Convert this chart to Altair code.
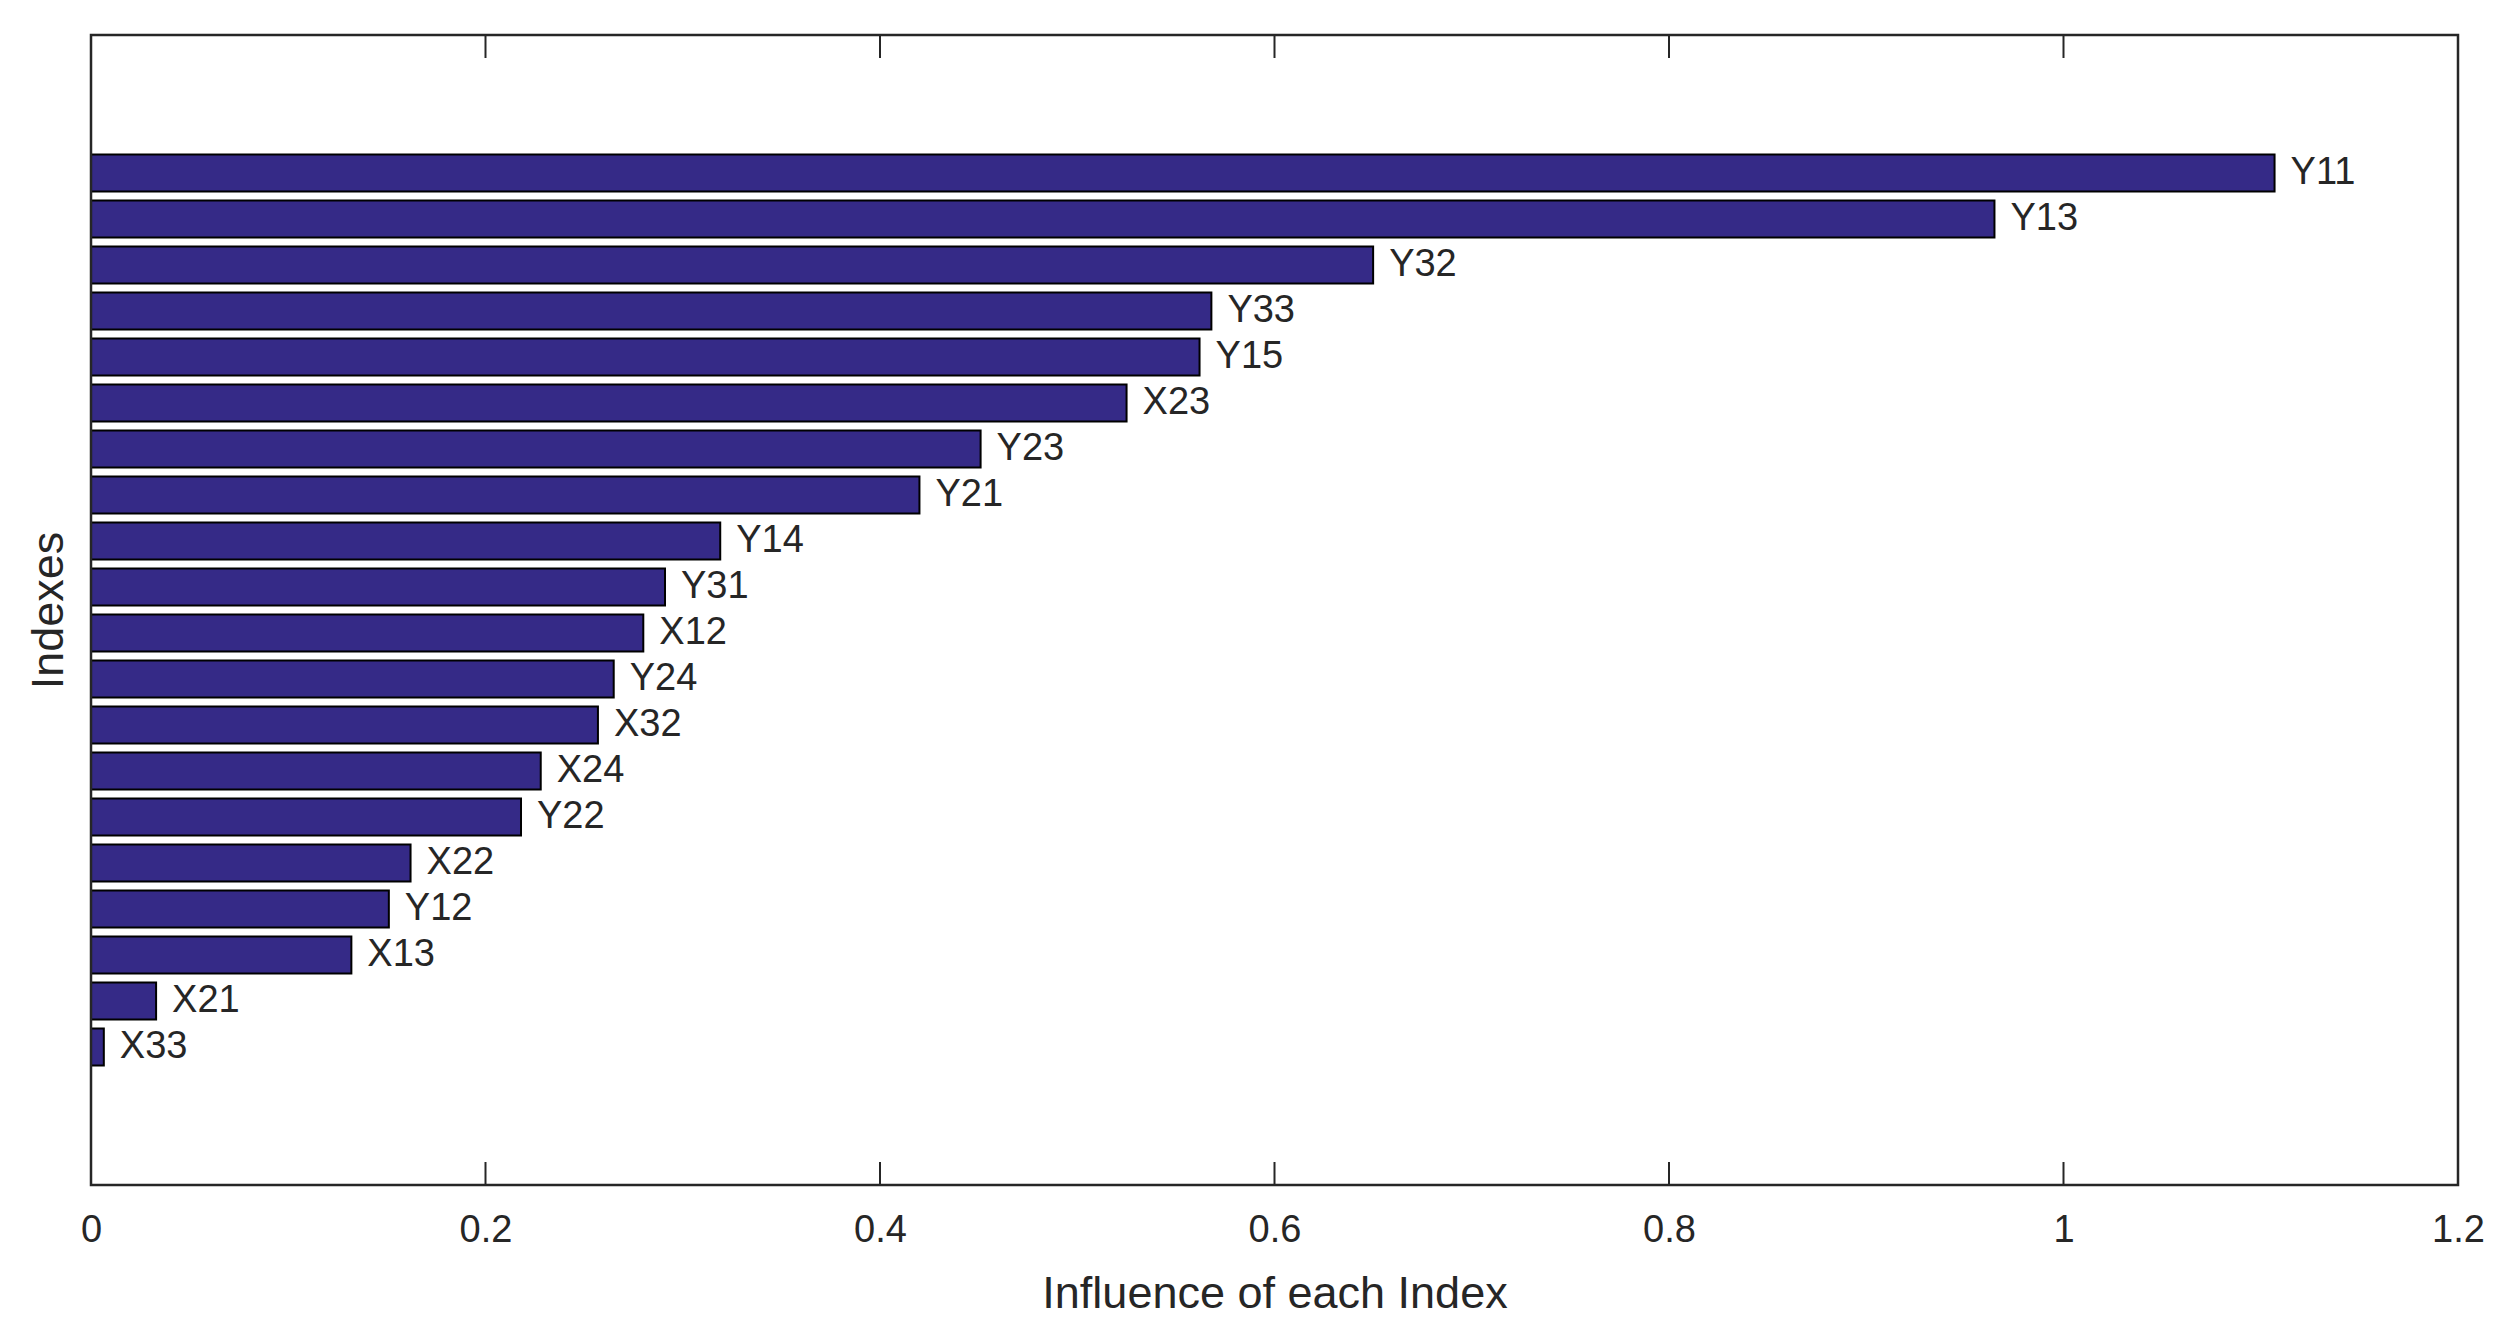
import altair as alt
import pandas as pd

names = ["Y11", "Y13", "Y32", "Y33", "Y15", "X23", "Y23", "Y21", "Y14", "Y31",
         "X12", "Y24", "X32", "X24", "Y22", "X22", "Y12", "X13", "X21", "X33"]
values = [1.107, 0.965, 0.650, 0.568, 0.562, 0.525, 0.451, 0.420, 0.319, 0.291,
          0.280, 0.265, 0.257, 0.228, 0.218, 0.162, 0.151, 0.132, 0.033, 0.0065]
tick_values = [0, 0.2, 0.4, 0.6, 0.8, 1.0, 1.2]

W, H = 2367, 1150
TICK = 23
FONT = "Liberation Sans"
INK = "#262626"

df = pd.DataFrame({"name": names, "value": values, "rank": list(range(len(names)))})
ticks_df = pd.DataFrame({"t": tick_values[1:-1]})

xscale = alt.Scale(domain=[0, 1.2], nice=False, zero=True)
yscale = alt.Scale(domain=[-3, len(names) + 2], nice=False, zero=False, reverse=True)

base = alt.Chart(df).transform_calculate(
    lo="datum.rank - 0.4", hi="datum.rank + 0.4"
)

bars = base.mark_bar(
    color="#352A87", stroke="black", strokeWidth=2
).encode(
    x=alt.X("value:Q", scale=xscale,
            axis=alt.Axis(values=tick_values, title="Influence of each Index",
                          labelExpr="datum.value == 0 ? '0' : datum.value == 1 ? '1' : format(datum.value, '.1f')",
                          ticks=False, tickSize=0, domain=False, grid=False,
                          labelFlush=False,
                          labelPadding=26, labelFontSize=38, labelFont=FONT,
                          labelColor=INK, titleFontSize=45, titleFont=FONT,
                          titleColor=INK, titleFontWeight="normal",
                          titlePadding=22)),
    x2=alt.datum(0),
    y=alt.Y("lo:Q", scale=yscale,
            axis=alt.Axis(labels=False, ticks=False, domain=False, grid=False,
                          title="Indexes", titleFontSize=45, titleFont=FONT,
                          titleColor=INK, titleFontWeight="normal",
                          titlePadding=20)),
    y2="hi:Q",
)

labels = base.mark_text(
    align="left", baseline="middle", dx=16, fontSize=38, font=FONT, color=INK
).encode(
    x=alt.X("value:Q", scale=xscale),
    y=alt.Y("rank:Q", scale=yscale),
    text="name:N",
)

bottom_ticks = alt.Chart(ticks_df).mark_rule(color=INK, strokeWidth=2).encode(
    x=alt.X("t:Q", scale=xscale),
    y=alt.value(H), y2=alt.value(H - TICK),
)
top_ticks = alt.Chart(ticks_df).mark_rule(color=INK, strokeWidth=2).encode(
    x=alt.X("t:Q", scale=xscale),
    y=alt.value(0), y2=alt.value(TICK),
)

frame = alt.Chart(pd.DataFrame({"f": [0]})).mark_rect(
    fill=None, stroke=INK, strokeWidth=2.5
).encode(
    x=alt.value(0), x2=alt.value(W), y=alt.value(0), y2=alt.value(H)
)

chart = alt.layer(bars, labels, bottom_ticks, top_ticks, frame).properties(
    width=W, height=H,
    autosize=alt.AutoSizeParams(type="none"),
    padding={"left": 83, "top": 27, "right": 45, "bottom": 140},
).configure_view(
    stroke=None, fill="white"
).configure(background="white")

chart.save("out.html", embed_options={"renderer": "svg", "actions": False})
